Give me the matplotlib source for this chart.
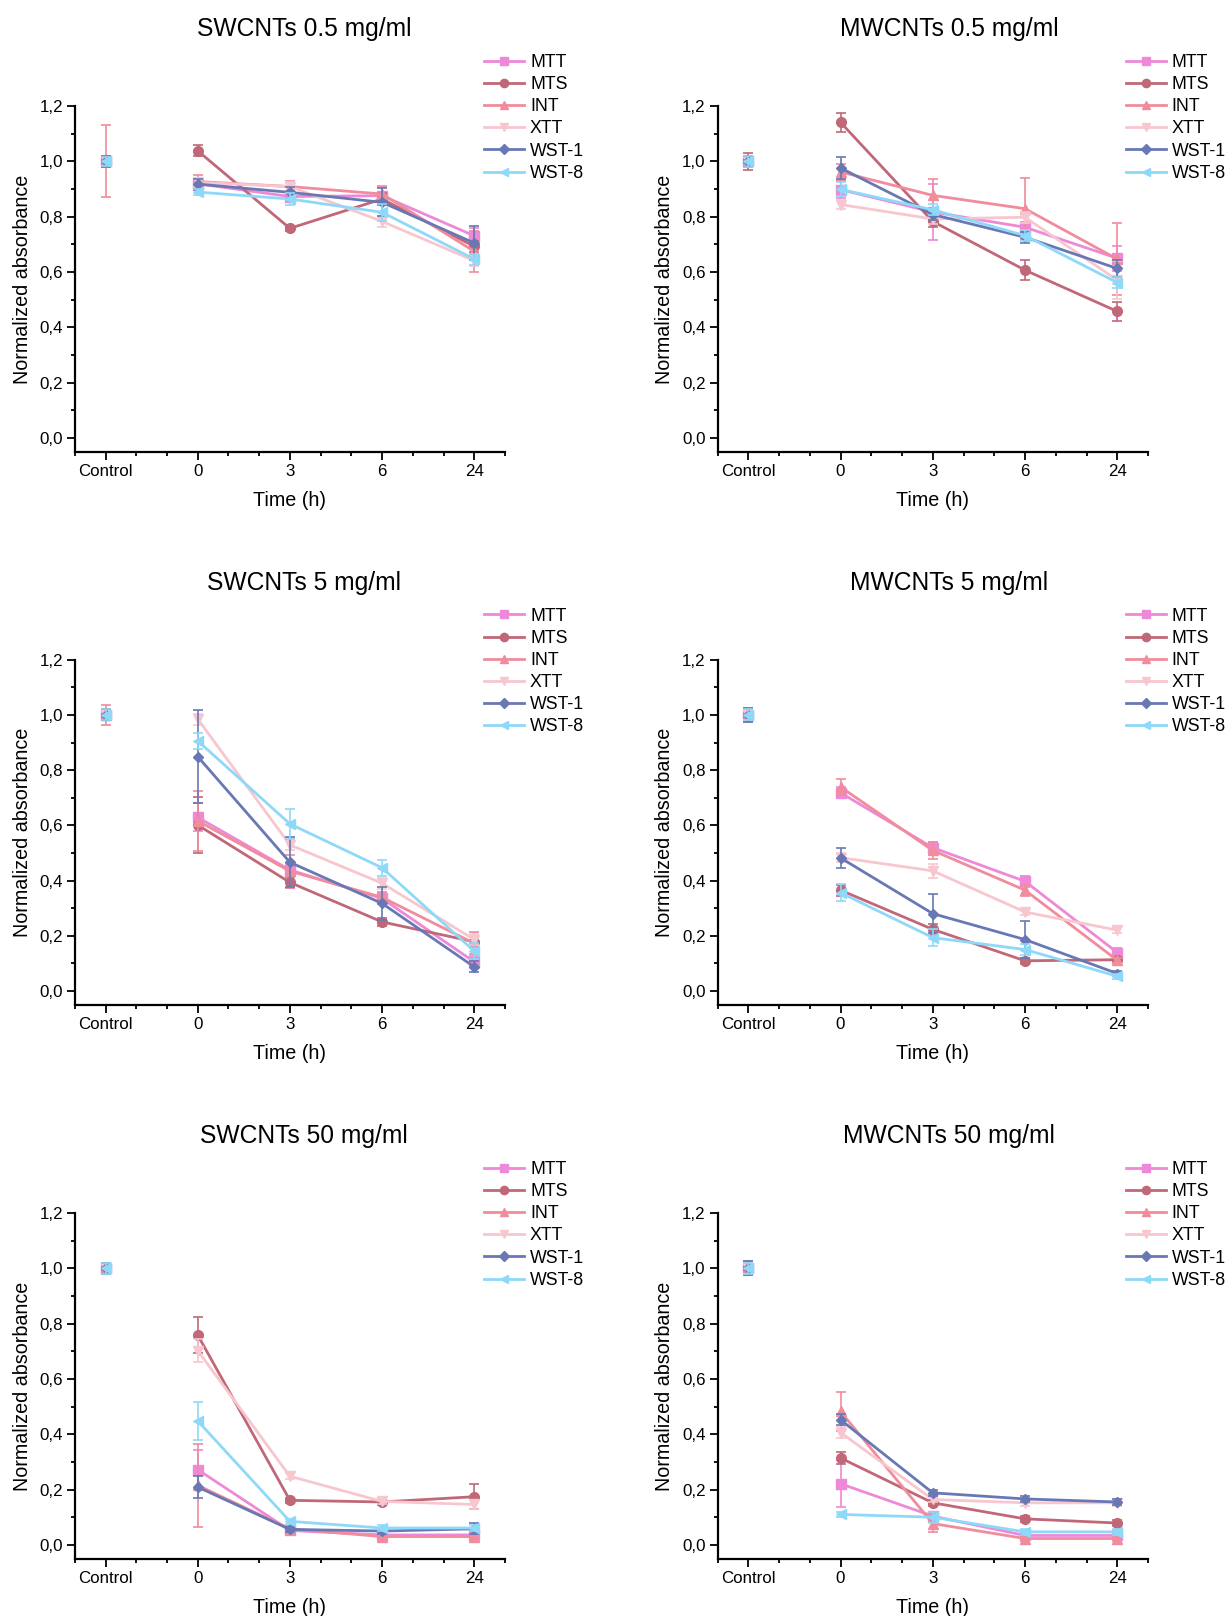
import numpy as np
import matplotlib
matplotlib.use("Agg")
import matplotlib.pyplot as plt
from matplotlib.ticker import FixedLocator, FuncFormatter

plt.rcParams['font.family'] = ['Liberation Sans', 'DejaVu Sans']

categories = ["Control", "0", "3", "6", "24"]
assays = ["MTT", "MTS", "INT", "XTT", "WST-1", "WST-8"]
colors = ["#EE88D8", "#C06878", "#F08C9C", "#F8C6CE", "#6878B4", "#8ED8F8"]
markers = ["s", "o", "^", "v", "D", "<"]
msizes = [6.5, 7, 7, 7, 5.5, 7]

titles = ["SWCNTs 0.5 mg/ml", "MWCNTs 0.5 mg/ml",
          "SWCNTs 5 mg/ml", "MWCNTs 5 mg/ml",
          "SWCNTs 50 mg/ml", "MWCNTs 50 mg/ml"]

# values: one row per assay, columns follow categories
sw05_vals = [[1.0, 0.919, 0.873, 0.876, 0.731],
             [1.0, 1.038, 0.758, 0.864, 0.693],
             [1.0, 0.927, 0.909, 0.882, 0.675],
             [1.0, 0.924, 0.909, 0.783, 0.641],
             [1.0, 0.918, 0.888, 0.852, 0.705],
             [1.0, 0.889, 0.864, 0.816, 0.647]]
sw05_err = [[0.02, 0.02, 0.02, 0.03, 0.03],
            [0.02, 0.02, 0.01, 0.02, 0.02],
            [0.13, 0.025, 0.02, 0.03, 0.075],
            [0.02, 0.015, 0.015, 0.02, 0.02],
            [0.02, 0.02, 0.02, 0.05, 0.06],
            [0.015, 0.01, 0.02, 0.03, 0.02]]

mw05_vals = [[1.0, 0.898, 0.817, 0.762, 0.650],
             [1.0, 1.141, 0.783, 0.607, 0.458],
             [1.0, 0.962, 0.877, 0.829, 0.647],
             [1.0, 0.844, 0.792, 0.798, 0.571],
             [1.0, 0.976, 0.808, 0.726, 0.613],
             [1.0, 0.899, 0.825, 0.732, 0.562]]
mw05_err = [[0.02, 0.03, 0.1, 0.02, 0.045],
            [0.03, 0.035, 0.02, 0.035, 0.035],
            [0.02, 0.03, 0.06, 0.11, 0.13],
            [0.02, 0.015, 0.02, 0.02, 0.07],
            [0.02, 0.04, 0.02, 0.02, 0.03],
            [0.02, 0.025, 0.02, 0.02, 0.02]]

sw5_vals = [[1.0, 0.629, 0.438, 0.335, 0.105],
            [1.0, 0.601, 0.393, 0.250, 0.178],
            [1.0, 0.616, 0.434, 0.339, 0.172],
            [1.0, 0.985, 0.529, 0.390, 0.186],
            [1.0, 0.849, 0.466, 0.317, 0.087],
            [1.0, 0.906, 0.605, 0.446, 0.144]]
sw5_err = [[0.02, 0.05, 0.02, 0.02, 0.02],
           [0.02, 0.1, 0.02, 0.015, 0.02],
           [0.035, 0.11, 0.06, 0.02, 0.04],
           [0.02, 0.02, 0.02, 0.02, 0.02],
           [0.02, 0.17, 0.09, 0.06, 0.02],
           [0.02, 0.03, 0.053, 0.03, 0.03]]

mw5_vals = [[1.0, 0.718, 0.519, 0.397, 0.139],
            [1.0, 0.365, 0.223, 0.109, 0.113],
            [1.0, 0.739, 0.509, 0.365, 0.111],
            [1.0, 0.483, 0.435, 0.286, 0.220],
            [1.0, 0.482, 0.280, 0.186, 0.063],
            [1.0, 0.356, 0.193, 0.150, 0.053]]
mw5_err = [[0.02, 0.02, 0.02, 0.02, 0.015],
           [0.02, 0.02, 0.02, 0.01, 0.01],
           [0.025, 0.03, 0.03, 0.02, 0.01],
           [0.02, 0.015, 0.025, 0.01, 0.01],
           [0.025, 0.035, 0.07, 0.068, 0.01],
           [0.02, 0.03, 0.03, 0.02, 0.01]]

sw50_vals = [[1.0, 0.273, 0.053, 0.037, 0.037],
             [1.0, 0.759, 0.162, 0.156, 0.175],
             [1.0, 0.216, 0.059, 0.031, 0.031],
             [1.0, 0.703, 0.249, 0.158, 0.147],
             [1.0, 0.210, 0.057, 0.051, 0.059],
             [1.0, 0.449, 0.086, 0.062, 0.062]]
sw50_err = [[0.02, 0.07, 0.01, 0.01, 0.01],
            [0.02, 0.065, 0.01, 0.01, 0.045],
            [0.02, 0.15, 0.01, 0.01, 0.01],
            [0.02, 0.04, 0.01, 0.01, 0.015],
            [0.02, 0.04, 0.01, 0.01, 0.02],
            [0.02, 0.07, 0.01, 0.01, 0.01]]

mw50_vals = [[1.0, 0.222, 0.105, 0.035, 0.035],
             [1.0, 0.315, 0.153, 0.095, 0.080],
             [1.0, 0.483, 0.078, 0.024, 0.024],
             [1.0, 0.407, 0.165, 0.153, 0.153],
             [1.0, 0.453, 0.189, 0.167, 0.156],
             [1.0, 0.111, 0.101, 0.048, 0.048]]
mw50_err = [[0.02, 0.085, 0.01, 0.01, 0.01],
            [0.02, 0.022, 0.01, 0.01, 0.01],
            [0.025, 0.07, 0.03, 0.01, 0.01],
            [0.02, 0.02, 0.01, 0.01, 0.01],
            [0.025, 0.02, 0.01, 0.01, 0.01],
            [0.02, 0.01, 0.02, 0.01, 0.01]]

panel_vals = [sw05_vals, mw05_vals, sw5_vals, mw5_vals, sw50_vals, mw50_vals]
panel_err = [sw05_err, mw05_err, sw5_err, mw5_err, sw50_err, mw50_err]

W, H = 1228, 1616
fig = plt.figure(figsize=(W / 100, H / 100), dpi=100)

col_lr = [(74.8, 505.0), (717.5, 1148.0)]
row_tb = [(106.0, 452.0), (659.7, 1004.7), (1213.0, 1559.0)]
title_x = [304, 949]
leg_x = [484, 1125.6]

x = np.arange(len(categories))


def make_panel(i):
    r, c = divmod(i, 2)
    l, rr = col_lr[c]
    t, b = row_tb[r]
    # axis top sits at 1.2 which is the top of the axes box
    ax = fig.add_axes([l / W, 1 - b / H, (rr - l) / W, (b - t) / H])
    vals = panel_vals[i]
    errs = panel_err[i]
    handles = []
    for k in range(len(assays)):
        v = vals[k]
        e = errs[k]
        # control point on its own
        ax.errorbar(x[:1], v[:1], yerr=e[:1], color=colors[k], marker=markers[k],
                    markersize=msizes[k], linestyle="none", elinewidth=1.2,
                    capsize=3.5, capthick=1.2, zorder=3 + k)
        h = ax.errorbar(x[1:], v[1:], yerr=e[1:], color=colors[k], marker=markers[k],
                        markersize=msizes[k], linewidth=2, elinewidth=1.2,
                        capsize=3.5, capthick=1.2, zorder=3 + k, label=assays[k])
        handles.append(h[0])

    ax.set_xlim(-1 / 3, 4 + 1 / 3)
    ax.set_ylim(-0.05, 1.2)
    ax.xaxis.set_major_locator(FixedLocator(x))
    ax.set_xticklabels(categories)
    ax.xaxis.set_minor_locator(FixedLocator([j / 3 for j in range(-1, 14) if j % 3 != 0]))
    ax.yaxis.set_major_locator(FixedLocator(np.arange(0, 1.21, 0.2)))
    ax.yaxis.set_minor_locator(FixedLocator(np.arange(0.1, 1.2, 0.2)))
    ax.yaxis.set_major_formatter(FuncFormatter(lambda v, p: f"{v:.1f}".replace(".", ",")))

    for s in ["top", "right"]:
        ax.spines[s].set_visible(False)
    for s in ["left", "bottom"]:
        ax.spines[s].set_linewidth(1.6)
    ax.tick_params(which="major", direction="out", length=5.5, width=1.3, labelsize=12.2, pad=3)
    ax.tick_params(which="minor", direction="out", length=3, width=1.3)

    ax.set_xlabel("Time (h)", fontsize=14.2, labelpad=9)
    ax.set_ylabel("Normalized absorbance", fontsize=14.2, labelpad=5.5)

    fig.text(title_x[c] / W, 1 - (t - 77) / H, titles[i], fontsize=17.7,
             ha="center", va="center")

    ax.legend(handles, assays, loc="upper left", frameon=False, fontsize=12.8,
              bbox_to_anchor=(leg_x[c] / W, 1 - (t - 52) / H),
              bbox_transform=fig.transFigure, borderaxespad=0, borderpad=0,
              handlelength=2.25, handletextpad=0.34, labelspacing=0.29,
              markerscale=0.85)
    return ax


for i in range(6):
    make_panel(i)

fig.savefig("out.png", dpi=100)
